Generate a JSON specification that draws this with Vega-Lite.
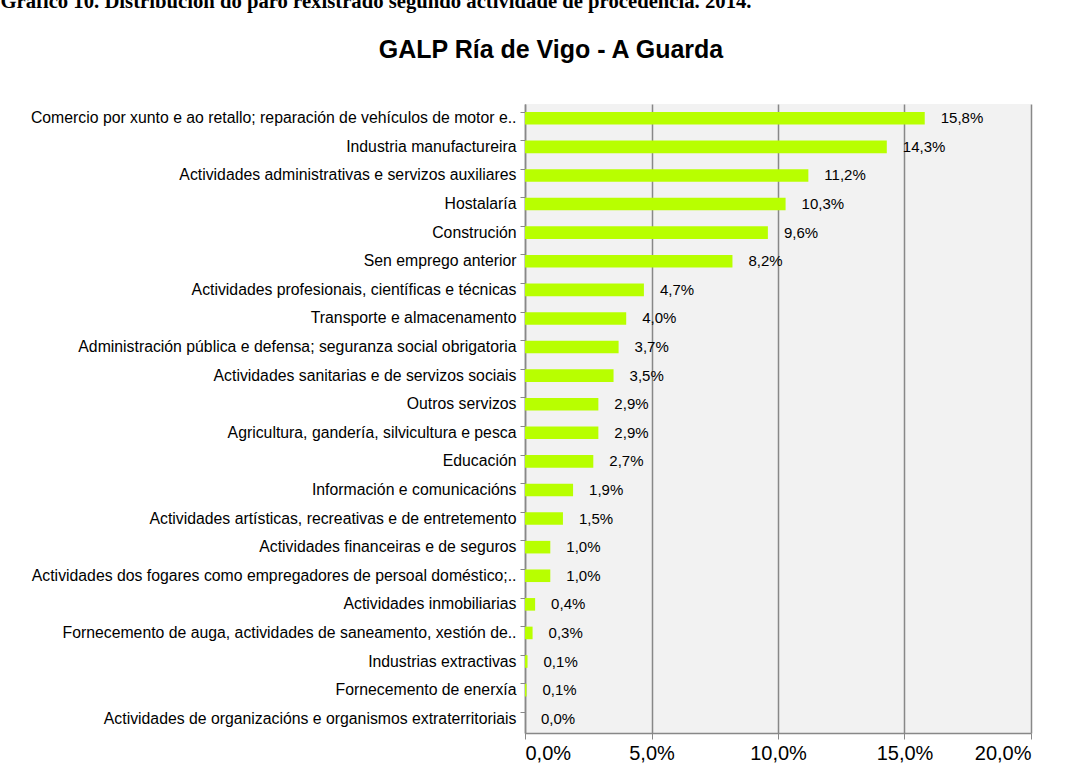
{
  "$schema": "https://vega.github.io/schema/vega-lite/v6.json",
  "background": "white",
  "padding": {"left": 0, "top": -9, "right": 20, "bottom": 0},
  "title": {
    "text": "Gráfico 10. Distribución do paro rexistrado segundo actividade de procedencia. 2014.",
    "anchor": "start",
    "frame": "bounds",
    "font": "Liberation Serif",
    "fontSize": 20.7,
    "fontWeight": "bold",
    "color": "black",
    "dx": -30,
    "offset": 25
  },
  "data": {
    "values": [
      {"actividade": "Comercio por xunto e ao retallo; reparación de vehículos de motor e..", "v": 0.158},
      {"actividade": "Industria manufactureira", "v": 0.143},
      {"actividade": "Actividades administrativas e servizos auxiliares", "v": 0.112},
      {"actividade": "Hostalaría", "v": 0.103},
      {"actividade": "Construción", "v": 0.096},
      {"actividade": "Sen emprego anterior", "v": 0.082},
      {"actividade": "Actividades profesionais, científicas e técnicas", "v": 0.047},
      {"actividade": "Transporte e almacenamento", "v": 0.040},
      {"actividade": "Administración pública e defensa; seguranza social obrigatoria", "v": 0.037},
      {"actividade": "Actividades sanitarias e de servizos sociais", "v": 0.035},
      {"actividade": "Outros servizos", "v": 0.029},
      {"actividade": "Agricultura, gandería, silvicultura e pesca", "v": 0.029},
      {"actividade": "Educación", "v": 0.027},
      {"actividade": "Información e comunicacións", "v": 0.019},
      {"actividade": "Actividades artísticas, recreativas e de entretemento", "v": 0.015},
      {"actividade": "Actividades financeiras e de seguros", "v": 0.010},
      {"actividade": "Actividades dos fogares como empregadores de persoal doméstico;..", "v": 0.010},
      {"actividade": "Actividades inmobiliarias", "v": 0.004},
      {"actividade": "Fornecemento de auga, actividades de saneamento, xestión de..", "v": 0.003},
      {"actividade": "Industrias extractivas", "v": 0.001},
      {"actividade": "Fornecemento de enerxía", "v": 0.0006},
      {"actividade": "Actividades de organizacións e organismos extraterritoriais", "v": 0.0}
    ]
  },
  "vconcat": [
    {
      "width": 506,
      "height": 629,
      "title": {
        "text": "GALP Ría de Vigo - A Guarda",
        "font": "Liberation Sans",
        "fontSize": 25,
        "fontWeight": "bold",
        "color": "black",
        "anchor": "middle",
        "frame": "bounds",
        "dx": 20,
        "offset": 41
      },
      "encoding": {
        "y": {
          "field": "actividade",
          "type": "nominal",
          "sort": null,
          "scale": {"paddingInner": 0.56, "paddingOuter": 0.28},
          "axis": {
            "title": null,
            "labelFont": "Liberation Sans",
            "labelFontSize": 15.8,
            "labelColor": "black",
            "labelLimit": 700,
            "labelPadding": 4,
            "tickSize": 5,
            "tickColor": "#888888",
            "domainColor": "#888888",
            "domainWidth": 1.5,
            "bandPosition": 0
          }
        },
        "x": {
          "field": "v",
          "type": "quantitative",
          "scale": {"domain": [0, 0.2], "nice": false},
          "axis": {
            "title": null,
            "format": ".1%",
            "values": [0, 0.05, 0.1, 0.15, 0.2],
            "labelFont": "Liberation Sans",
            "labelFontSize": 20,
            "labelColor": "black",
            "labelPadding": 4,
            "tickSize": 6,
            "tickColor": "#888888",
            "domainColor": "#888888",
            "domainWidth": 1.5,
            "grid": true,
            "gridColor": "#888888",
            "gridWidth": 1.5
          }
        }
      },
      "layer": [
        {"mark": {"type": "bar", "color": "#b8ff00"}},
        {
          "mark": {"type": "text", "align": "left", "baseline": "middle", "dx": 16, "font": "Liberation Sans", "fontSize": 15, "color": "black"},
          "encoding": {"text": {"field": "v", "type": "quantitative", "format": ".1%"}}
        }
      ]
    }
  ],
  "config": {
    "locale": {"number": {"decimal": ",", "thousands": ".", "grouping": [3], "currency": ["", " €"]}},
    "view": {"fill": "#f2f2f2", "stroke": null}
  }
}
